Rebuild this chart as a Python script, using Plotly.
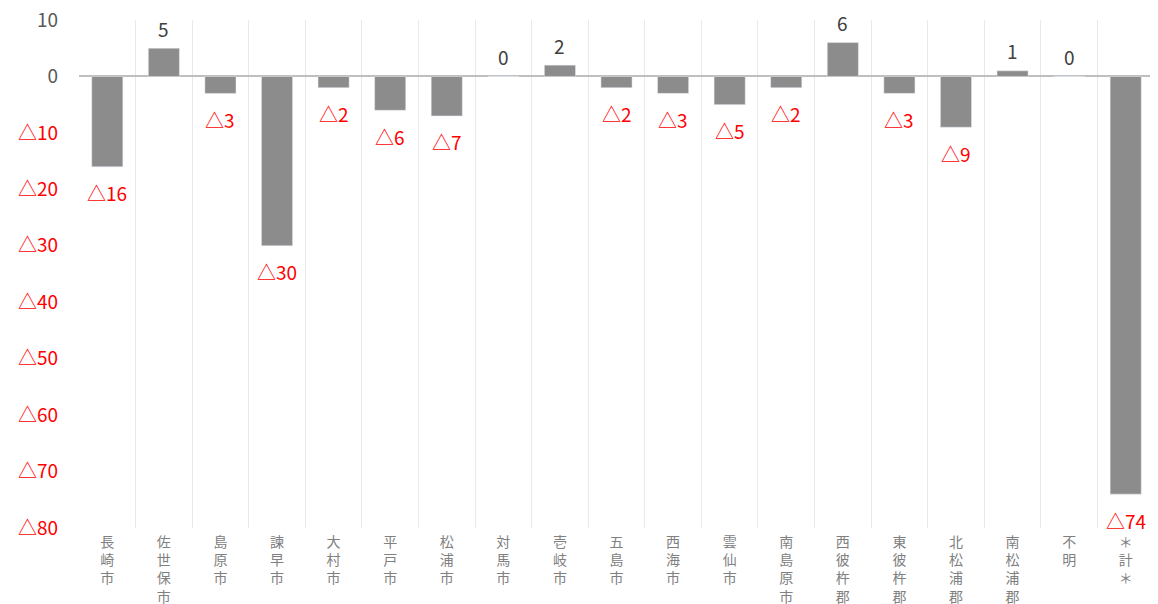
import plotly.graph_objects as go

categories = ["長崎市", "佐世保市", "島原市", "諫早市", "大村市", "平戸市", "松浦市", "対馬市",
              "壱岐市", "五島市", "西海市", "雲仙市", "南島原市", "西彼杵郡", "東彼杵郡",
              "北松浦郡", "南松浦郡", "不明", "＊計＊"]
values = [-16, 5, -3, -30, -2, -6, -7, 0, 2, -2, -3, -5, -2, 6, -3, -9, 1, 0, -74]
ytick_vals = [10, 0, -10, -20, -30, -40, -50, -60, -70, -80]

RED = "#ff0000"
DARK = "#404040"
FONT = "Noto Sans CJK JP"

def fmt(v):
    return "△" + str(abs(v)) if v < 0 else str(v)

def stack(s):
    return "<br>".join(list(s))

ytick_text = [f"<span style='color:{RED}'>{fmt(v)}</span>" if v < 0 else fmt(v) for v in ytick_vals]

fig = go.Figure()
fig.add_trace(go.Bar(
    x=categories, y=values, marker_color="#8c8c8c", width=0.55,
    hoverinfo="skip",
))

annotations = []
for c, v in zip(categories, values):
    annotations.append(dict(
        x=c, y=v, xref="x", yref="y", text=fmt(v), showarrow=False,
        yanchor="middle", xanchor="center",
        yshift=(-26 if v < 0 else 20),
        font=dict(size=19, color=(RED if v < 0 else DARK), family=FONT),
    ))

# page body has an 8px margin: figure is sized/offset to compensate
fig.update_layout(
    width=1150, height=596,
    margin=dict(l=71, r=4, t=12, b=76, autoexpand=False),
    paper_bgcolor="white", plot_bgcolor="white",
    showlegend=False,
    font=dict(family=FONT, color="#595959"),
    annotations=annotations,
)
fig.update_xaxes(
    type="category", automargin=False,
    tickvals=categories, ticktext=[stack(c) for c in categories],
    tickson="boundaries", ticks="", ticklabelstandoff=4,
    showgrid=True, gridcolor="#e9e9e9", gridwidth=1,
    tickfont=dict(size=14, color="#808080"),
    showline=False, zeroline=False, ticklabeloverflow="allow",
)
fig.update_yaxes(
    range=[-80, 10], automargin=False, tickvals=ytick_vals, ticktext=ytick_text,
    tickfont=dict(size=19, color="#595959"),
    showgrid=False, zeroline=True, zerolinecolor="#bfbfbf", zerolinewidth=1.5,
    ticklabelstandoff=20, showline=False, ticklabeloverflow="allow",
)

fig.write_html("out.html")
